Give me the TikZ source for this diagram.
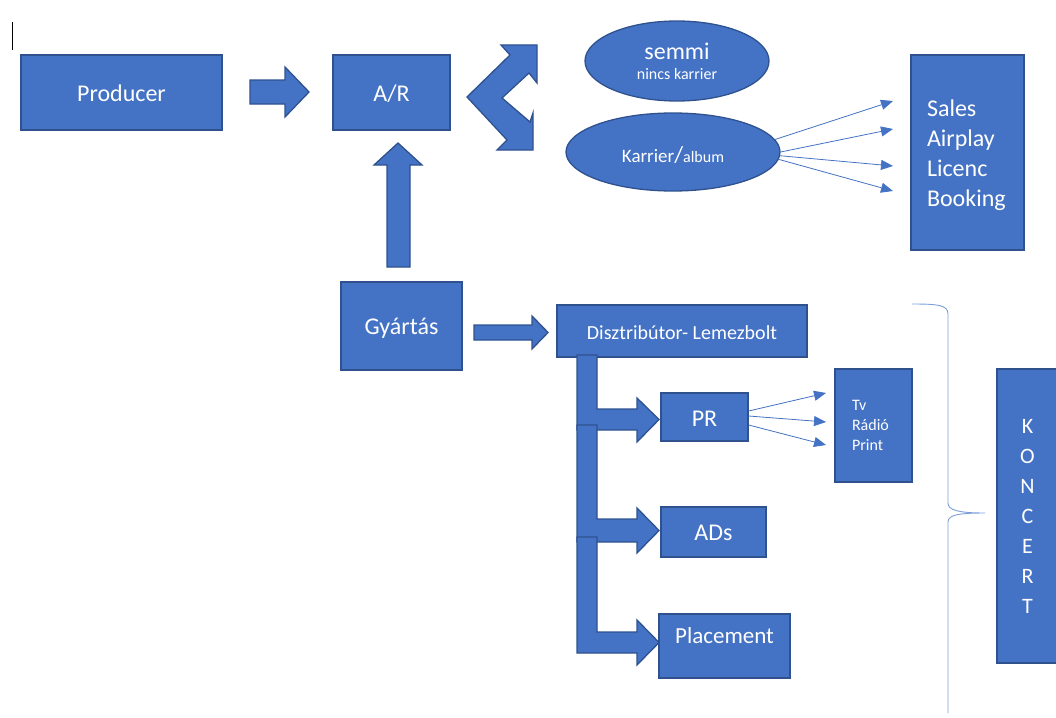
\documentclass[tikz,border=0pt]{standalone}
\usepackage{fontspec}
\setmainfont{Carlito}
\usetikzlibrary{shapes.geometric,arrows.meta,calc}
\definecolor{boxfill}{HTML}{4472C4}
\definecolor{boxline}{HTML}{2F528F}
\definecolor{bracecol}{HTML}{7C9FDB}
\begin{document}
\begin{tikzpicture}[x=1pt,y=-1pt,
  box/.style={rectangle, fill=boxfill, draw=boxline, line width=1.3pt, inner sep=0pt, text=white},
  oval/.style={ellipse, fill=boxfill, draw=boxline, line width=1.3pt, inner sep=0pt, text=white},
  blk/.style={fill=boxfill, draw=boxline, line width=1.3pt, line join=miter},
  thinarrow/.style={draw=boxfill, line width=0.8pt, -{Triangle[length=12pt,width=10pt]}},
  big/.style={font=\fontsize{24}{30}\selectfont},
]
\useasboundingbox[fill=white] (0,0) rectangle (1056,717);

% text cursor
\draw[line width=1.2pt] (12.5,22) -- (12.5,50);

% top row
\node[box, big, minimum width=201pt, minimum height=75pt, text height=20pt, text depth=2pt] (producer) at (121.5,92.5) {Producer};
\node[box, big, minimum width=117pt, minimum height=75pt, text height=20pt, text depth=2pt] (ar) at (391.5,92.5) {A/R};
\draw[blk] (250,80) -- (285,80) -- (285,67) -- (309,92) -- (285,117) -- (285,104) -- (250,104) -- cycle;

% double chevron arrow
\draw[blk] (467,97) -- (510,55) -- (501,45) -- (537,45) -- (537,83) -- (529,73) -- (502,98)
  -- (530,122) -- (533,113) -- (533,150) -- (497,150) -- (507,140) -- cycle;

% ellipses
\node[oval, minimum width=184pt, minimum height=80pt, align=center, font=\fontsize{24}{20}\selectfont] (semmi) at (677,61)
  {semmi\\{\fontsize{16}{20}\selectfont nincs karrier}};
\node[oval, minimum width=214pt, minimum height=78pt, text height=23pt, text depth=3pt] (karrier) at (673,152)
  {\fontsize{19}{22}\selectfont Karrier\fontsize{23}{26}\selectfont/\fontsize{16}{20}\selectfont album};

% sales box
\node[box, big, align=left, text width=81pt, text height=23pt, minimum width=113pt, minimum height=195pt] (sales) at (967.5,152.5)
  {Sales\\Airplay\\Licenc\\Booking};
\coordinate (s1) at (893,101);
\coordinate (s2) at (893,129);
\coordinate (s3) at (893,166);
\coordinate (s4) at (893,191);
\draw[thinarrow] (karrier.7) -- (s1);
\draw[thinarrow] (karrier.0) -- (s2);
\draw[thinarrow] (karrier.-2) -- (s3);
\draw[thinarrow] (karrier.-4) -- (s4);

% production
\node[box, big, minimum width=121pt, minimum height=88pt, text height=19pt, text depth=3pt] (gyartas) at (401.5,326) {Gyártás};
\draw[blk] (387,267) -- (387,165) -- (374,165) -- (398,143) -- (422,165) -- (410,165) -- (410,267) -- cycle;
\draw[blk] (474,325) -- (532,325) -- (532,316) -- (548,332.5) -- (532,349) -- (532,340) -- (474,340) -- cycle;

\node[box, font=\fontsize{20}{24}\selectfont, minimum width=250pt, minimum height=52pt, text height=18pt, text depth=2pt] (dist) at (682,331) {Disztribútor- Lemezbolt};

% branch arrows
\draw[blk] (577,355) -- (597,355) -- (597,409) -- (637,409) -- (637,398) -- (659,419.5) -- (637,442) -- (637,430) -- (577,430) -- cycle;
\draw[blk] (577,425) -- (597,425) -- (597,519) -- (637,519) -- (637,508) -- (659,530.5) -- (637,553) -- (637,542) -- (577,542) -- cycle;
\draw[blk] (577,537) -- (597,537) -- (597,632) -- (637,632) -- (637,620) -- (659,642.5) -- (637,665) -- (637,653) -- (577,653) -- cycle;

\node[box, big, minimum width=87pt, minimum height=48pt, text height=20pt, text depth=2pt] (pr) at (704.5,417) {PR};
\node[box, big, minimum width=105pt, minimum height=50pt, text height=19.5pt, text depth=2pt] (ads) at (713.5,532) {ADs};
\node[box, font=\fontsize{23}{28}\selectfont, minimum width=131pt, minimum height=64pt, text height=10pt, text depth=16pt] (placement) at (724.5,646) {Placement};

% media box
\node[box, font=\fontsize{16}{20}\selectfont, align=left, text width=43pt, minimum width=77pt, minimum height=113pt] (media) at (873.5,425.5)
  {Tv\\Rádió\\Print};
\coordinate (m1) at (826,393);
\coordinate (m2) at (826,422);
\coordinate (m3) at (826,445);
\draw[thinarrow] ($(pr.east)+(0,-6)$) -- (m1);
\draw[thinarrow] ($(pr.east)+(0,-1)$) -- (m2);
\draw[thinarrow] ($(pr.east)+(0,8)$) -- (m3);

% brace
\draw[bracecol, line width=0.9pt] (912,304) .. controls (938,304) and (948,305) .. (948,314) -- (948,503)
  .. controls (948,510) and (958,513) .. (985,513) .. controls (958,513) and (948,515) .. (948,522) -- (948,713);

% koncert
\node[box, font=\fontsize{22}{30}\selectfont, align=center, minimum width=61pt, minimum height=294pt] (koncert) at (1027.5,516)
  {K\\O\\N\\C\\E\\R\\T};
\end{tikzpicture}
\end{document}
